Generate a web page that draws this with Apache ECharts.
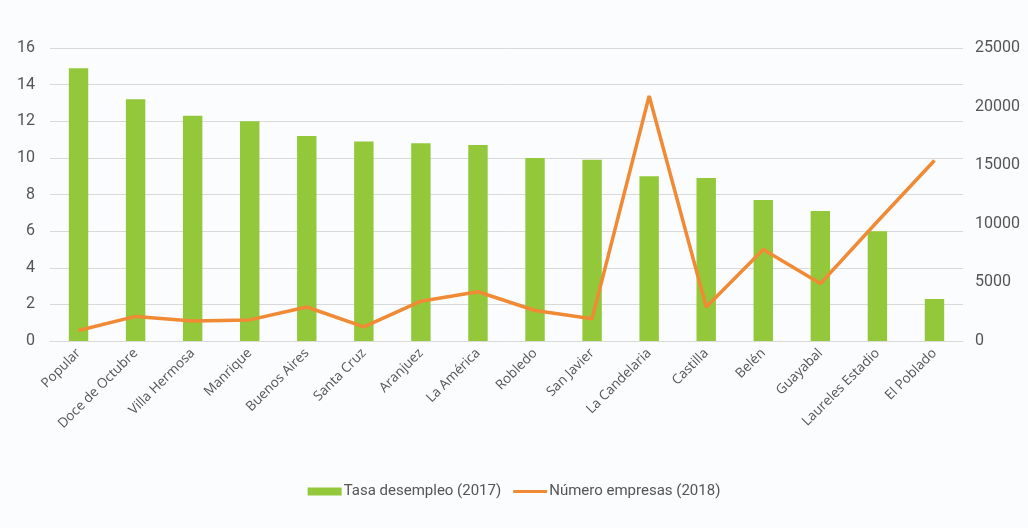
<!DOCTYPE html>
<html><head><meta charset="utf-8">
<script src="https://cdn.jsdelivr.net/npm/echarts@6/dist/echarts.min.js"></script>
<style>html,body{margin:0;padding:0;background:#fbfcfd}#c{width:1028px;height:528px}</style>
</head><body><div id="c"></div>
<script>
const categories = ["Popular","Doce de Octubre","Villa Hermosa","Manrique","Buenos Aires","Santa Cruz","Aranjuez","La América","Robledo","San Javier","La Candelaria","Castilla","Belén","Guayabal","Laureles Estadio","El Poblado"];
const tasaDesempleo = [14.9,13.2,12.3,12.0,11.2,10.9,10.8,10.7,10.0,9.9,9.0,8.9,7.7,7.1,6.0,2.3];
const numeroEmpresas = [900,2100,1700,1800,2900,1200,3400,4200,2600,1900,20900,2900,7800,4900,10200,15400];
const leftTicks = {min:0,max:16,interval:2};
const rightTicks = {min:0,max:25000,interval:5000};

const chart = echarts.init(document.getElementById('c'));
chart.setOption({
  backgroundColor:'#fbfcfd',
  animation:false,
  grid:{left:50,right:65,top:48,bottom:187},
  legend:{
    bottom:24,left:'center',itemGap:12,itemWidth:34,itemHeight:8,
    textStyle:{fontFamily:'Roboto',fontSize:15,color:'#555',padding:[0,0,0,-3]},
    data:[
      {name:'Tasa desempleo (2017)',icon:'rect'},
      {name:'Número empresas (2018)',icon:'path://M0,2.6 L34,2.6 L34,5.4 L0,5.4 Z M0,0 L0.01,0 L0.01,0.01 Z M0,8 L0.01,8 L0.01,7.99 Z'}
    ]
  },
  xAxis:{type:'category',data:categories,
    axisLine:{show:true,lineStyle:{color:'#d9d9d9'}},axisTick:{show:false},
    axisLabel:{rotate:45,interval:0,fontFamily:'Open Sans',fontSize:13.5,color:'#555',margin:10}},
  yAxis:[
    {type:'value',min:leftTicks.min,max:leftTicks.max,interval:leftTicks.interval,
     axisLabel:{fontFamily:'Roboto',fontSize:16,color:'#555',margin:15},
     splitLine:{lineStyle:{color:'#d9d9d9'}},axisLine:{show:false},axisTick:{show:false}},
    {type:'value',min:rightTicks.min,max:rightTicks.max,interval:rightTicks.interval,position:'right',
     axisLabel:{fontFamily:'Roboto',fontSize:16,color:'#555',margin:12,formatter:v=>String(v)},
     splitLine:{show:false},axisLine:{show:false},axisTick:{show:false}}
  ],
  series:[
    {name:'Tasa desempleo (2017)',type:'bar',data:tasaDesempleo,barWidth:'34%',itemStyle:{color:'#92c83a'}},
    {name:'Número empresas (2018)',type:'line',yAxisIndex:1,data:numeroEmpresas,symbol:'none',
     lineStyle:{color:'#f08a35',width:3.5},itemStyle:{color:'#f08a35'}}
  ]
});
</script></body></html>
